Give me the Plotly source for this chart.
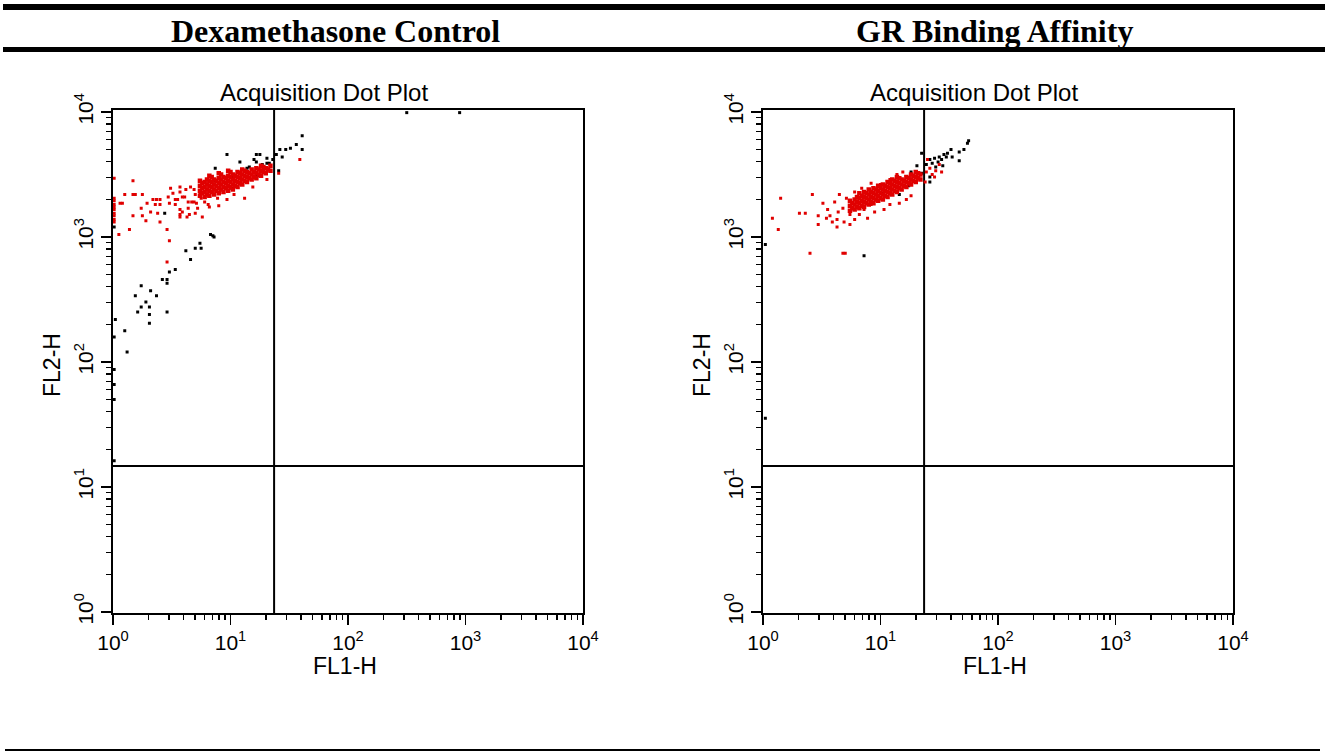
import numpy as np
import plotly.graph_objects as go

# ---------------- data (log10 of channel values) ----------------
panel_titles = ["Dexamethasone Control", "GR Binding Affinity"]
plot_title = "Acquisition Dot Plot"
x_title = "FL1-H"
y_title = "FL2-H"
tick_vals = [1, 10, 100, 1000, 10000]
tick_text = ["10<sup>0</sup>", "10<sup>1</sup>", "10<sup>2</sup>", "10<sup>3</sup>", "10<sup>4</sup>"]
quad_fl1 = 23.5   # vertical quadrant marker
quad_fl2 = 14.7   # horizontal quadrant marker

# Left panel: gated (red) scattered events
dex_red_scatter = [
    (0.01, 3.47), (0.01, 3.31), (0.01, 3.29), (0.01, 3.26), (0.01, 3.24), (0.01, 3.22), (0.01, 3.19),
    (0.01, 3.17), (0.01, 3.14), (0.01, 3.12), (0.05, 3.02), (0.06, 3.27), (0.08, 3.27), (0.10, 3.34),
    (0.14, 3.06), (0.17, 3.45), (0.17, 3.34), (0.19, 3.34), (0.17, 3.17), (0.24, 3.23), (0.25, 3.34),
    (0.25, 3.17), (0.28, 3.13), (0.29, 3.27), (0.34, 3.30), (0.37, 3.30), (0.40, 3.30), (0.36, 3.26),
    (0.40, 3.26), (0.32, 3.20), (0.38, 3.19), (0.40, 3.12), (0.47, 3.32), (0.48, 3.27), (0.49, 3.39),
    (0.51, 3.35), (0.53, 3.30), (0.55, 3.30), (0.53, 3.26), (0.57, 3.22), (0.59, 3.20), (0.57, 3.18),
    (0.64, 3.23), (0.64, 3.28), (0.67, 3.28), (0.69, 3.28), (0.59, 3.32), (0.61, 3.32), (0.57, 3.36),
    (0.62, 3.38), (0.57, 3.40), (0.66, 3.40), (0.69, 3.38), (0.74, 3.35), (0.70, 3.34), (0.70, 3.19),
    (0.72, 3.23), (0.75, 3.31), (0.78, 3.28), (0.81, 3.26), (0.71, 3.27), (0.82, 3.24), (0.90, 3.25),
    (0.89, 3.31), (0.97, 3.30), (1.03, 3.34), (1.12, 3.31), (1.19, 3.40), (1.31, 3.46), (1.41, 3.51),
    (1.59, 3.62), (0.46, 3.06), (0.48, 2.97), (0.46, 2.80), (0.65, 3.18), (0.76, 3.16), (0.63, 3.16),
    (0.57, 3.16),
]
# Left panel: gated (red) dense core
dex_red_core = [
    (0.74, 3.33), (0.74, 3.37), (0.74, 3.41), (0.74, 3.45), (0.76, 3.35), (0.76, 3.39), (0.76, 3.43),
    (0.78, 3.32), (0.78, 3.36), (0.78, 3.40), (0.78, 3.44), (0.80, 3.34), (0.80, 3.38), (0.80, 3.42),
    (0.80, 3.46), (0.82, 3.33), (0.82, 3.37), (0.82, 3.41), (0.82, 3.45), (0.82, 3.49), (0.84, 3.36),
    (0.84, 3.40), (0.84, 3.44), (0.84, 3.48), (0.86, 3.34), (0.86, 3.38), (0.86, 3.42), (0.86, 3.46),
    (0.88, 3.37), (0.88, 3.41), (0.88, 3.45), (0.90, 3.35), (0.90, 3.39), (0.90, 3.43), (0.90, 3.47),
    (0.90, 3.51), (0.92, 3.38), (0.92, 3.42), (0.92, 3.46), (0.92, 3.50), (0.94, 3.36), (0.94, 3.40),
    (0.94, 3.44), (0.94, 3.48), (0.96, 3.39), (0.96, 3.43), (0.96, 3.47), (0.98, 3.37), (0.98, 3.41),
    (0.98, 3.45), (0.98, 3.49), (0.98, 3.53), (1.00, 3.40), (1.00, 3.44), (1.00, 3.48), (1.00, 3.52),
    (1.02, 3.38), (1.02, 3.42), (1.02, 3.46), (1.02, 3.50), (1.04, 3.41), (1.04, 3.45), (1.04, 3.49),
    (1.06, 3.40), (1.06, 3.44), (1.06, 3.48), (1.06, 3.52), (1.08, 3.43), (1.08, 3.47), (1.08, 3.51),
    (1.10, 3.42), (1.10, 3.46), (1.10, 3.50), (1.10, 3.54), (1.12, 3.45), (1.12, 3.49), (1.12, 3.53),
    (1.14, 3.44), (1.14, 3.48), (1.14, 3.52), (1.16, 3.47), (1.16, 3.51), (1.18, 3.46), (1.18, 3.50),
    (1.18, 3.54), (1.20, 3.48), (1.20, 3.52), (1.22, 3.47), (1.22, 3.51), (1.22, 3.55), (1.24, 3.50),
    (1.24, 3.54), (1.26, 3.49), (1.26, 3.53), (1.26, 3.57), (1.28, 3.52), (1.28, 3.56), (1.30, 3.51),
    (1.30, 3.55), (1.32, 3.54), (1.34, 3.53), (1.34, 3.57),
]
# Left panel: ungated (black) events
dex_black = [
    (0.97, 3.66), (0.87, 3.55), (1.08, 3.60), (1.14, 3.55), (1.22, 3.66), (1.25, 3.66), (1.22, 3.60),
    (1.27, 3.58), (1.31, 3.63), (1.33, 3.59), (1.36, 3.62), (1.39, 3.66), (1.42, 3.70), (1.44, 3.64),
    (1.47, 3.70), (1.51, 3.71), (1.56, 3.74), (1.61, 3.81), (1.61, 3.70), (1.41, 3.53), (1.02, 3.48),
    (1.01, 3.39), (0.87, 3.45), (1.23, 3.49), (1.16, 3.56), (1.29, 3.55), (1.31, 3.59), (1.20, 3.62),
    (2.50, 3.995), (2.95, 3.995),
    (0.83, 3.02), (0.85, 3.01), (0.86, 3.00), (0.74, 2.95), (0.70, 2.91), (0.75, 2.91), (0.62, 2.89),
    (0.66, 2.82), (0.53, 2.74), (0.48, 2.72), (0.42, 2.66), (0.46, 2.66), (0.46, 2.63), (0.24, 2.61),
    (0.32, 2.57), (0.19, 2.53), (0.37, 2.53), (0.28, 2.48), (0.24, 2.44), (0.31, 2.44), (0.21, 2.40),
    (0.46, 2.40), (0.31, 2.38), (0.02, 2.34), (0.31, 2.31), (0.10, 2.25), (0.01, 2.20), (0.12, 2.08),
    (0.01, 1.94), (0.01, 1.82), (0.01, 1.70), (0.01, 1.21), (0.44, 3.19), (0.01, 3.08),
]

# Right panel: gated (red) scattered events
gr_red_scatter = [
    (0.15, 3.31), (0.08, 3.15), (0.13, 3.06), (0.42, 3.34), (0.31, 3.19), (0.36, 3.19), (0.47, 3.17),
    (0.47, 3.10), (0.51, 3.27), (0.40, 2.87), (0.68, 2.87), (0.70, 2.87), (0.55, 3.22), (0.57, 3.17),
    (0.59, 3.12), (0.63, 3.14), (0.63, 3.08), (0.65, 3.34), (0.71, 3.31), (0.61, 3.28), (0.69, 3.12),
    (0.74, 3.10), (0.68, 3.23), (0.74, 3.18), (0.78, 3.14), (0.82, 3.18), (0.86, 3.22), (0.89, 3.15),
    (0.92, 3.26), (0.95, 3.20), (0.78, 3.36), (0.84, 3.39), (0.92, 3.43), (1.00, 3.42), (1.03, 3.22),
    (1.08, 3.26), (1.16, 3.27), (1.22, 3.30), (1.26, 3.33), (1.08, 3.46), (1.14, 3.50), (1.19, 3.52),
    (0.54, 3.15), (0.64, 3.20),
    (1.39, 3.52), (1.42, 3.55), (1.44, 3.50), (1.47, 3.53), (1.50, 3.58), (1.40, 3.62), (1.46, 3.48),
    (1.38, 3.44), (1.52, 3.52),
]
# Right panel: gated (red) dense core
gr_red_core = [
    (0.74, 3.21), (0.74, 3.25), (0.74, 3.29), (0.76, 3.23), (0.76, 3.27), (0.78, 3.22), (0.78, 3.26),
    (0.78, 3.30), (0.80, 3.24), (0.80, 3.28), (0.80, 3.32), (0.82, 3.23), (0.82, 3.27), (0.82, 3.31),
    (0.82, 3.35), (0.84, 3.25), (0.84, 3.29), (0.84, 3.33), (0.86, 3.24), (0.86, 3.28), (0.86, 3.32),
    (0.86, 3.36), (0.88, 3.27), (0.88, 3.31), (0.88, 3.35), (0.90, 3.26), (0.90, 3.30), (0.90, 3.34),
    (0.90, 3.38), (0.92, 3.28), (0.92, 3.32), (0.92, 3.36), (0.94, 3.27), (0.94, 3.31), (0.94, 3.35),
    (0.94, 3.39), (0.96, 3.30), (0.96, 3.34), (0.96, 3.38), (0.98, 3.29), (0.98, 3.33), (0.98, 3.37),
    (0.98, 3.41), (1.00, 3.31), (1.00, 3.35), (1.00, 3.39), (1.02, 3.30), (1.02, 3.34), (1.02, 3.38),
    (1.02, 3.42), (1.04, 3.33), (1.04, 3.37), (1.04, 3.41), (1.06, 3.32), (1.06, 3.36), (1.06, 3.40),
    (1.06, 3.44), (1.08, 3.35), (1.08, 3.39), (1.08, 3.43), (1.10, 3.34), (1.10, 3.38), (1.10, 3.42),
    (1.10, 3.46), (1.12, 3.37), (1.12, 3.41), (1.12, 3.45), (1.14, 3.36), (1.14, 3.40), (1.14, 3.44),
    (1.14, 3.48), (1.16, 3.39), (1.16, 3.43), (1.16, 3.47), (1.18, 3.38), (1.18, 3.42), (1.18, 3.46),
    (1.20, 3.41), (1.20, 3.45), (1.22, 3.40), (1.22, 3.44), (1.22, 3.48), (1.24, 3.43), (1.24, 3.47),
    (1.26, 3.42), (1.26, 3.46), (1.26, 3.50), (1.28, 3.45), (1.28, 3.49), (1.30, 3.44), (1.30, 3.48),
    (1.30, 3.52), (1.32, 3.47), (1.32, 3.51), (1.34, 3.46), (1.34, 3.50),
]
# Right panel: ungated (black) events
gr_black = [
    (0.02, 2.94), (0.86, 2.85), (0.02, 1.55), (1.35, 3.67), (1.31, 3.57), (1.26, 3.52), (1.24, 3.41),
    (1.01, 3.35), (1.16, 3.34), (1.35, 3.51), (1.42, 3.48), (1.42, 3.44), (1.39, 3.58), (1.42, 3.62),
    (1.44, 3.59), (1.46, 3.63), (1.49, 3.60), (1.50, 3.64), (1.52, 3.62), (1.54, 3.66), (1.56, 3.64),
    (1.53, 3.57), (1.47, 3.56), (1.57, 3.67), (1.61, 3.64), (1.67, 3.68), (1.71, 3.70), (1.74, 3.75),
    (1.75, 3.77), (1.67, 3.61), (1.60, 3.70),
]

# ---------------- figure ----------------
W, H = 1325, 753
RED = "#e00000"


def unzip(pairs):
    arr = np.array(pairs, dtype=float)
    return np.power(10.0, arr[:, 0]), np.power(10.0, arr[:, 1])


def px(x):
    return x / W


def py(y):
    return 1 - y / H


fig = go.Figure()

panels = [
    ("x", "y", dex_red_scatter, dex_red_core, dex_black),
    ("x2", "y2", gr_red_scatter, gr_red_core, gr_black),
]
for xa, ya, red_s, red_c, blk in panels:
    # quadrant markers
    fig.add_trace(go.Scatter(x=[quad_fl1, quad_fl1], y=[0.9, 11000], mode="lines",
                             line=dict(color="black", width=2), xaxis=xa, yaxis=ya,
                             showlegend=False, hoverinfo="skip"))
    fig.add_trace(go.Scatter(x=[0.9, 11000], y=[quad_fl2, quad_fl2], mode="lines",
                             line=dict(color="black", width=2), xaxis=xa, yaxis=ya,
                             showlegend=False, hoverinfo="skip"))
    bx, by = unzip(blk)
    fig.add_trace(go.Scatter(x=bx, y=by, mode="markers", xaxis=xa, yaxis=ya,
                             marker=dict(color="black", size=3, symbol="square", line=dict(width=0)),
                             showlegend=False))
    cx, cy = unzip(red_c)
    fig.add_trace(go.Scatter(x=cx, y=cy, mode="markers", xaxis=xa, yaxis=ya,
                             marker=dict(color=RED, size=4.5, symbol="square", line=dict(width=0)),
                             showlegend=False))
    sx, sy = unzip(red_s)
    fig.add_trace(go.Scatter(x=sx, y=sy, mode="markers", xaxis=xa, yaxis=ya,
                             marker=dict(color=RED, size=3, symbol="square", line=dict(width=0)),
                             showlegend=False))

minor_vals = [m * 10 ** d for d in range(4) for m in range(2, 10)]
tick_font = dict(family="Liberation Sans", size=21, color="black")


def axis_common():
    return dict(type="log", showline=True, linecolor="black", linewidth=2, mirror=True,
                ticks="outside", ticklen=10, tickwidth=1.5, tickcolor="black",
                tickmode="array", tickvals=tick_vals, ticktext=tick_text, tickfont=tick_font,
                showgrid=False, zeroline=False, fixedrange=True, automargin=False,
                minor=dict(tickmode="array", tickvals=minor_vals, ticks="outside", ticklen=5,
                           tickwidth=1.5, tickcolor="black", showgrid=False))


ydom = [py(613), py(110)]
fig.update_layout(
    template="none",
    width=W, height=H, margin=dict(l=0, r=0, t=0, b=0, pad=0, autoexpand=False),
    paper_bgcolor="white", plot_bgcolor="white", showlegend=False,
    xaxis=dict(domain=[px(113), px(583)], range=[0, 4], anchor="y", **axis_common()),
    yaxis=dict(domain=ydom, range=[-0.008, 4.016], anchor="x", tickangle=-90, **axis_common()),
    xaxis2=dict(domain=[px(763), px(1233)], range=[0, 4], anchor="y2", **axis_common()),
    yaxis2=dict(domain=ydom, range=[-0.008, 4.016], anchor="x2", tickangle=-90, **axis_common()),
)

title_font = dict(family="Liberation Sans", size=24, color="black")
label_font = dict(family="Liberation Sans", size=23, color="black")
head_font = dict(family="Liberation Serif", size=32, color="black")
annotations = []
for off, head, hx in [(0, panel_titles[0], 335), (650, panel_titles[1], 994)]:
    annotations.append(dict(text="<b>%s</b>" % head, x=px(hx), y=py(31), xref="paper", yref="paper",
                            showarrow=False, font=head_font, xanchor="center", yanchor="middle"))
    annotations.append(dict(text=plot_title, x=px(324 + off), y=py(92), xref="paper", yref="paper",
                            showarrow=False, font=title_font, xanchor="center", yanchor="middle"))
    annotations.append(dict(text=x_title, x=px(345 + off), y=py(666), xref="paper", yref="paper",
                            showarrow=False, font=label_font, xanchor="center", yanchor="middle"))
    annotations.append(dict(text=y_title, x=px(52 + off), y=py(365), xref="paper", yref="paper",
                            showarrow=False, font=label_font, xanchor="center", yanchor="middle",
                            textangle=-90))
fig.update_layout(annotations=annotations)

shapes = [
    dict(type="rect", xref="paper", yref="paper", x0=px(3), x1=1, y0=py(10), y1=py(4),
         fillcolor="black", line=dict(width=0)),
    dict(type="rect", xref="paper", yref="paper", x0=px(3), x1=1, y0=py(52), y1=py(47),
         fillcolor="black", line=dict(width=0)),
    dict(type="rect", xref="paper", yref="paper", x0=px(5), x1=px(1320), y0=py(751), y1=py(749),
         fillcolor="black", line=dict(width=0)),
]
fig.update_layout(shapes=shapes)

fig.write_html("out.html", config={"displayModeBar": False, "staticPlot": True},
               post_script="document.body.style.margin='0';document.body.style.overflow='hidden';")
